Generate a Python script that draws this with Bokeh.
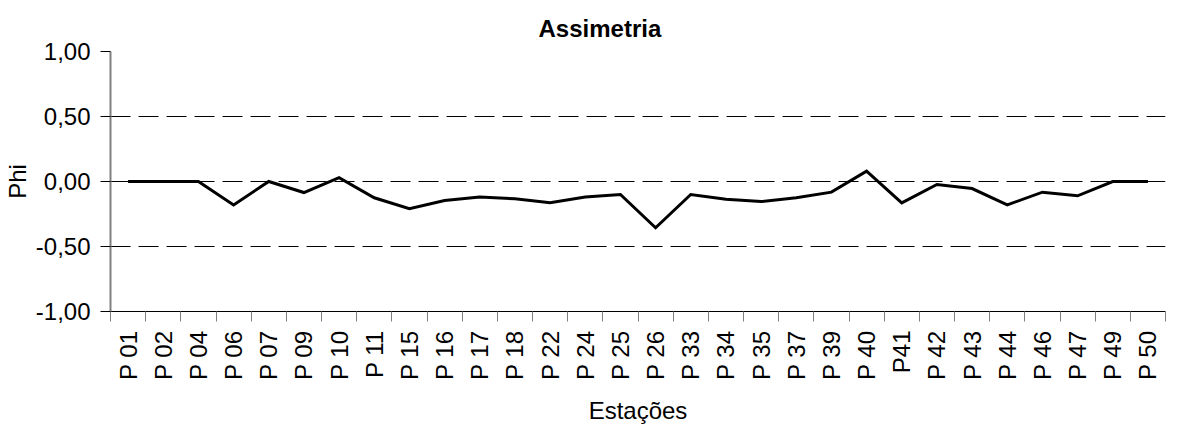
import numpy as np
from bokeh.plotting import figure
from bokeh.models import FixedTicker, CustomJSTickFormatter, Range1d, ColumnDataSource
from bokeh.embed import file_html
from bokeh.resources import INLINE

title_text = "Assimetria"
stations = ["P 01", "P 02", "P 04", "P 06", "P 07", "P 09", "P 10", "P 11", "P 15", "P 16",
            "P 17", "P 18", "P 22", "P 24", "P 25", "P 26", "P 33", "P 34", "P 35", "P 37",
            "P 39", "P 40", "P41", "P 42", "P 43", "P 44", "P 46", "P 47", "P 49", "P 50"]
phi = [0.00, 0.00, 0.00, -0.18, 0.00, -0.085, 0.03, -0.125, -0.21, -0.146,
       -0.12, -0.133, -0.164, -0.12, -0.10, -0.356, -0.10, -0.136, -0.154, -0.125,
       -0.082, 0.08, -0.164, -0.023, -0.054, -0.18, -0.082, -0.11, 0.00, 0.00]
y_ticks = [-1.0, -0.5, 0.0, 0.5, 1.0]

n = len(stations)
xpos = list(np.arange(n) + 0.5)
src = ColumnDataSource(dict(x=xpos, y=phi))

FONT = "Liberation Sans"

p = figure(width=1177, height=426, output_backend="svg", toolbar_location=None,
           x_range=Range1d(0, n), y_range=Range1d(-1, 1),
           min_border_left=110, min_border_right=12, min_border_top=51, min_border_bottom=115,
           title=title_text)
p.outline_line_color = None
p.background_fill_color = "white"
p.border_fill_color = "white"

p.title.text_font = FONT
p.title.text_font_size = "24px"
p.title.text_font_style = "bold"
p.title.align = "left"
p.title.vertical_align = "top"
p.title.offset = 428
p.title.text_color = "black"
p.title.standoff = 16

p.line("x", "y", source=src, line_color="black", line_width=3, line_join="miter")

# x axis
xa = p.xaxis[0]
xa.ticker = FixedTicker(ticks=xpos, minor_ticks=list(range(n + 1)))
xa.formatter = CustomJSTickFormatter(args=dict(labels=stations),
                                     code="return labels[Math.floor(tick)];")
xa.major_label_orientation = np.pi / 2
xa.major_tick_out = 0
xa.major_tick_in = 0
xa.minor_tick_out = 10
xa.minor_tick_in = 0
xa.minor_tick_line_color = "#808080"
xa.minor_tick_line_width = 1
xa.axis_line_color = "black"
xa.axis_line_width = 1
xa.major_label_standoff = 9
xa.major_label_text_font = FONT
xa.major_label_text_font_size = "24px"
xa.major_label_text_color = "black"
xa.axis_label = "Estações"
xa.axis_label_text_font = FONT
xa.axis_label_text_font_size = "24px"
xa.axis_label_text_font_style = "normal"
xa.axis_label_text_color = "black"
xa.axis_label_standoff = 14

# y axis
ya = p.yaxis[0]
ya.ticker = FixedTicker(ticks=y_ticks, minor_ticks=[])
ya.formatter = CustomJSTickFormatter(code="return tick.toFixed(2).replace('.', ',');")
ya.major_tick_out = 10
ya.major_tick_in = 0
ya.major_tick_line_color = "black"
ya.axis_line_color = "#808080"
ya.axis_line_width = 2
ya.major_label_standoff = 10
ya.major_label_text_font = FONT
ya.major_label_text_font_size = "24px"
ya.major_label_text_color = "black"
ya.axis_label = "Phi"
ya.axis_label_text_font = FONT
ya.axis_label_text_font_size = "24px"
ya.axis_label_text_font_style = "normal"
ya.axis_label_text_color = "black"
ya.axis_label_standoff = 2

p.xgrid.grid_line_color = None
p.ygrid.grid_line_color = "black"
p.ygrid.grid_line_width = 1
p.ygrid.grid_line_dash = "20 8"

open("out.html", "w").write(file_html(p, INLINE))
